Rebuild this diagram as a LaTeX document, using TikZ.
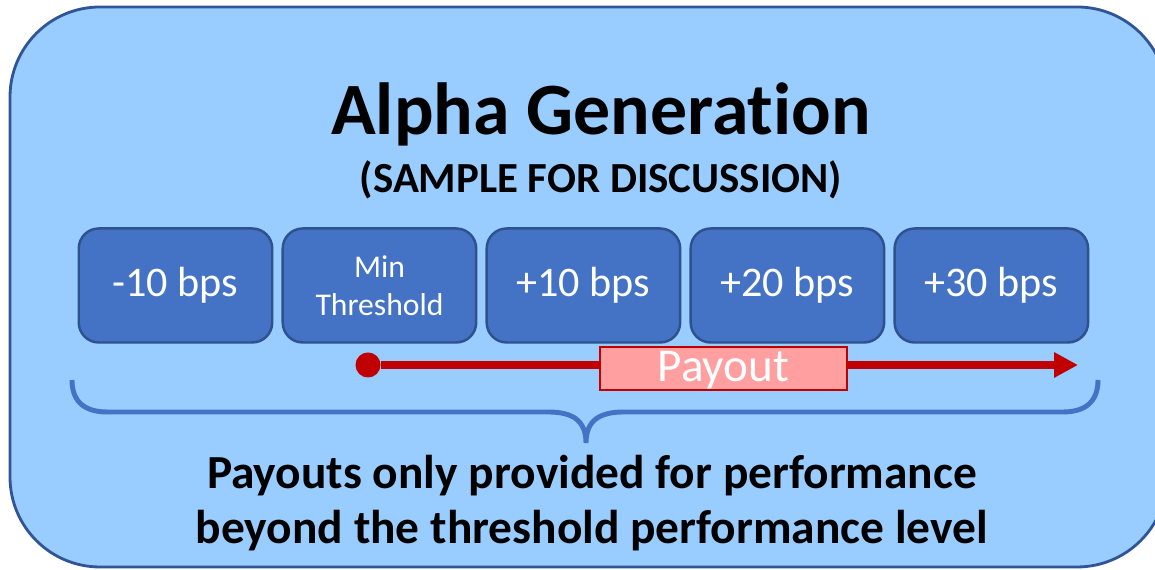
\documentclass[tikz,border=0pt]{standalone}
\usepackage{fontspec}
\setmainfont{Carlito}[Ligatures=NoCommon]
\usepackage{tikz}
\usetikzlibrary{arrows.meta, positioning}
\definecolor{panelfill}{HTML}{99CCFF}
\definecolor{paneldraw}{HTML}{2F5597}
\definecolor{bpsfill}{HTML}{4472C4}
\definecolor{bpsdraw}{HTML}{2F528F}
\definecolor{payred}{HTML}{C00000}
\definecolor{payfill}{HTML}{FF9F9F}
\tikzset{
  bpsbox/.style={draw=bpsdraw, line width=0.7pt, fill=bpsfill, rounded corners=0.2cm,
    minimum width=1.935cm, minimum height=1.14cm, inner sep=0pt, text=white,
    font=\fontsize{12}{14}\selectfont, align=center},
  payline/.style={payred, line width=2.2pt, -{Triangle[length=0.24cm,width=0.24cm]}},
}

\begin{document}
\begin{tikzpicture}
		\useasboundingbox (0,0) rectangle (11.55,5.70);
		\clip (0,0) rectangle (11.55,5.70);
		\draw[paneldraw, line width=0.8pt, fill=panelfill, rounded corners=0.9cm] (0.10,0.03) rectangle (11.67,5.63);

		\node[anchor=base] (title) at (6.01,4.35) {\fontsize{21}{25}\selectfont\bfseries Alpha Generation};
		\node[anchor=base] (sub) at (6.01,3.77) {\fontsize{12.2}{14}\selectfont\bfseries (SAMPLE FOR DISCUSSION)};

		\node[bpsbox] (m10) at (1.755,2.845) {-10 bps};
		\node[bpsbox, right=0.08 of m10, font=\fontsize{9}{10.8}\selectfont] (min) {Min\\Threshold};
		\node[bpsbox, right=0.08 of min] (p10) {+10 bps};
		\node[bpsbox, right=0.08 of p10] (p20) {+20 bps};
		\node[bpsbox, right=0.08 of p20] (p30) {+30 bps};

		\node[circle, fill=payred, minimum size=0.25cm, inner sep=0pt] (dot) at (3.68,2.05) {};
		\coordinate (payend) at (10.78,2.05);
		\draw[payline] (dot) -- (payend);
		\node[draw=payred, line width=0.8pt, fill=payfill, minimum width=2.47cm, minimum height=0.43cm,
			inner sep=0pt, text=white, text height=1.5ex, text depth=0pt,
			font=\fontsize{13.4}{15}\selectfont] (payout) at (7.235,2.015) {Payout};

		% brace
		\coordinate (brL) at (0.72,1.90);
		\coordinate (brTip) at (5.86,1.27);
		\coordinate (brR) at (10.98,1.90);
		\draw[bpsfill, line width=1.4pt] (brL) .. controls (0.72,1.68) and (0.85,1.58) .. (1.07,1.58) -- (5.48,1.58)
			.. controls (5.72,1.58) and (5.86,1.50) .. (brTip)
			.. controls (5.86,1.50) and (6.00,1.58) .. (6.24,1.58) -- (10.63,1.58)
			.. controls (10.85,1.58) and (10.98,1.68) .. (brR);

		\node[align=center, font=\fontsize{13.5}{15.6}\selectfont\bfseries] (note) at (5.92,0.665)
			{Payouts only provided for performance\\beyond the threshold performance level};
\end{tikzpicture}
\end{document}
